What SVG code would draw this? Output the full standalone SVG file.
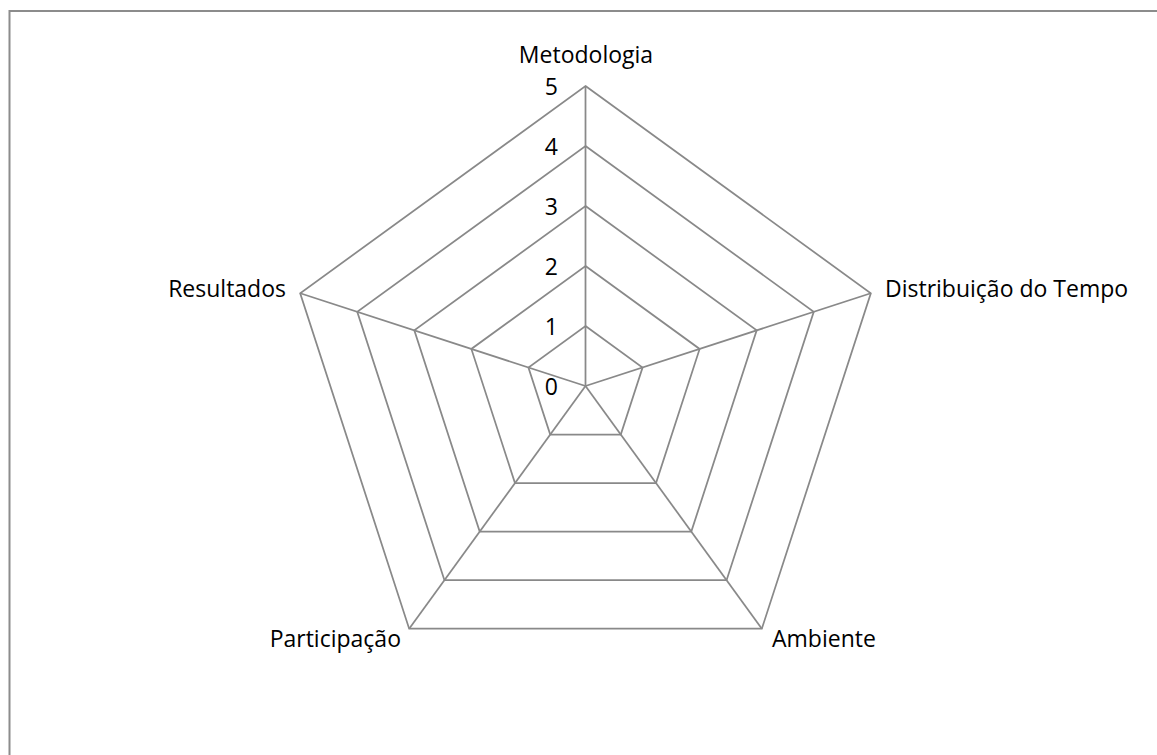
<svg xmlns="http://www.w3.org/2000/svg" width="1157" height="755" viewBox="0 0 1157 755">
<style>
.grid{fill:none;stroke:#898989;stroke-width:1.75;stroke-linejoin:miter}
.lbl{font-family:"Open Sans","Liberation Sans",sans-serif;font-size:23px;fill:#000}
.tick{font-family:"Open Sans","Liberation Sans",sans-serif;font-size:23px;fill:#000;text-anchor:end}
</style>
<rect x="0" y="0" width="1157" height="755" fill="#fff"/>
<path d="M9.5,755 V11 H1157" fill="none" stroke="#8c8c8c" stroke-width="2"/>
<g id="rings" class="grid">
<polygon points="585.5,86 870.82,293.29 761.84,628.71 409.16,628.71 300.18,293.29"/>
<polygon points="585.5,146 813.75,311.84 726.57,580.16 444.43,580.16 357.25,311.84"/>
<polygon points="585.5,206 756.69,330.38 691.3,531.62 479.7,531.62 414.31,330.38"/>
<polygon points="585.5,266 699.63,348.92 656.03,483.08 514.97,483.08 471.37,348.92"/>
<polygon points="585.5,326 642.56,367.46 620.77,434.54 550.23,434.54 528.44,367.46"/>
</g>
<g id="connectors" class="grid">
<line x1="585.5" y1="386" x2="585.5" y2="86"/>
<line x1="585.5" y1="386" x2="870.82" y2="293.29"/>
<line x1="585.5" y1="386" x2="761.84" y2="628.71"/>
<line x1="585.5" y1="386" x2="409.16" y2="628.71"/>
<line x1="585.5" y1="386" x2="300.18" y2="293.29"/>
</g>
<g id="ticks" class="tick">
<text x="558" y="95">5</text>
<text x="558" y="155">4</text>
<text x="558" y="215">3</text>
<text x="558" y="275">2</text>
<text x="558" y="335">1</text>
<text x="558" y="395">0</text>
</g>
<g id="axis-metodologia"><text class="lbl" x="586" y="63" text-anchor="middle">Metodologia</text></g>
<g id="axis-distribuicao"><text class="lbl" x="885" y="297">Distribuição do Tempo</text></g>
<g id="axis-ambiente"><text class="lbl" x="772" y="647">Ambiente</text></g>
<g id="axis-participacao"><text class="lbl" x="401" y="647" text-anchor="end">Participação</text></g>
<g id="axis-resultados"><text class="lbl" x="286" y="297" text-anchor="end">Resultados</text></g>
</svg>
